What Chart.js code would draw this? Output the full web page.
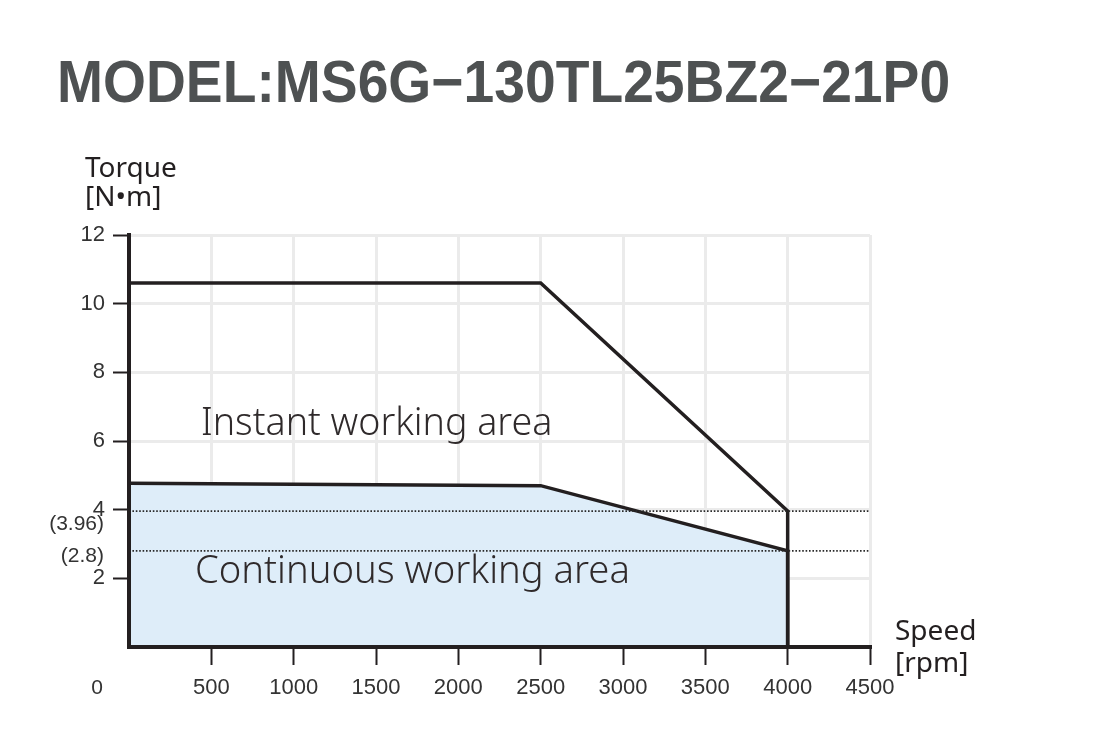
<!DOCTYPE html>
<html>
<head>
<meta charset="utf-8">
<script src="https://cdn.jsdelivr.net/npm/chart.js@4/dist/chart.umd.min.js"></script>
<style>
  html, body { margin: 0; padding: 0; background: #fff; }
  #wrap { width: 1111px; height: 753px; position: relative; }
</style>
</head>
<body>
<div id="wrap"><canvas id="torqueChart"></canvas></div>
<script>
// torque / speed curve data
const speedTicks = [0, 500, 1000, 1500, 2000, 2500, 3000, 3500, 4000, 4500];
const torqueTicks = [0, 2, 4, 6, 8, 10, 12];

const instantSpeed = [0, 2500, 4000, 4000];
const instantTorque = [10.6, 10.6, 3.96, 0];

const contSpeed = [0, 2500, 4000, 4000];
const contTorque = [4.77, 4.7, 2.8, 0];

const markLevels = [3.96, 2.8];
const markLabels = ['(3.96)', '(2.8)'];

const dark = '#231f20';
const toPoints = (xs, ys) => xs.map((x, i) => ({x: x, y: ys[i]}));

// extra texts drawn on the canvas
const textPlugin = {
    id: 'texts',
    afterDraw(chart) {
        const c = chart.ctx;
        const x = chart.scales.x, y = chart.scales.y;
        c.save();
        // title (squeezed a little, the original face is narrower)
        c.save();
        c.fillStyle = '#4e5152';
        c.font = 'bold 59px "Liberation Sans", Arial, sans-serif';
        c.textBaseline = 'alphabetic';
        c.textAlign = 'left';
        c.translate(57, 102);
        c.scale(0.936, 1);
        c.fillText('MODEL:MS6G\u2212130TL25BZ2\u221221P0', 0, 0);
        c.restore();

        // axis titles
        c.fillStyle = dark;
        c.textAlign = 'left';
        c.font = '28px "Noto Sans", sans-serif';
        c.fillText('Torque', 85, 177);
        c.fillText('[N\u2022m]', 85, 206);
        c.fillText('Speed', 895, 640);
        c.fillText('[rpm]', 895, 672);

        // area labels
        c.fillStyle = '#2f2a2b';
        c.font = '300 37.6px "Noto Sans", sans-serif';
        c.fillText('Instant working area', 201, 435);
        c.font = '300 38.2px "Noto Sans", sans-serif';
        c.fillText('Continuous working area', 195, 583);

        // origin + dotted level labels
        c.fillStyle = '#333';
        c.font = '21px "Liberation Sans", Arial, sans-serif';
        c.textAlign = 'center';
        c.textBaseline = 'middle';
        c.fillText('0', x.getPixelForValue(0) - 32, 688);
        c.textAlign = 'right';
        c.fillText(markLabels[0], 104, y.getPixelForValue(markLevels[0]) + 13);
        c.fillText(markLabels[1], 104, y.getPixelForValue(markLevels[1]) + 5);
        c.restore();
    }
};

const ctx = document.getElementById('torqueChart').getContext('2d');

const myChart = new Chart(ctx, {
    type: 'line',
    data: {
        datasets: [
            {
                label: 'Continuous',
                data: toPoints(contSpeed, contTorque),
                borderColor: dark,
                borderWidth: 3.5,
                backgroundColor: '#deedf9',
                fill: 'origin',
                pointRadius: 0,
                tension: 0,
                order: 3
            },
            {
                label: 'Instant',
                data: toPoints(instantSpeed, instantTorque),
                borderColor: dark,
                borderWidth: 3.5,
                fill: false,
                pointRadius: 0,
                tension: 0,
                order: 2
            },
            {
                label: '3.96',
                data: toPoints([0, 4500], [markLevels[0], markLevels[0]]),
                borderColor: '#2a2a2a',
                borderWidth: 1.8,
                borderDash: [1.6, 1.8],
                fill: false,
                pointRadius: 0,
                clip: false,
                order: 1
            },
            {
                label: '2.8',
                data: toPoints([0, 4500], [markLevels[1], markLevels[1]]),
                borderColor: '#2a2a2a',
                borderWidth: 1.8,
                borderDash: [1.6, 1.8],
                fill: false,
                pointRadius: 0,
                clip: false,
                order: 1
            }
        ]
    },
    options: {
        responsive: true,
        maintainAspectRatio: false,
        animation: false,
        layout: { padding: { top: 235, right: 241, left: 0, bottom: 0 } },
        plugins: {
            legend: { display: false },
            tooltip: { enabled: false }
        },
        scales: {
            x: {
                type: 'linear',
                min: speedTicks[0],
                max: speedTicks[speedTicks.length - 1],
                afterBuildTicks: (s) => { s.ticks = speedTicks.map(v => ({value: v})); },
                afterFit: (s) => { s.height = 106; },
                border: { color: dark, width: 4, z: 1 },
                grid: {
                    color: '#ebebeb',
                    lineWidth: 3,
                    tickLength: 18,
                    tickWidth: 2,
                    tickColor: (c) => c.tick && c.tick.value === 0 ? 'rgba(0,0,0,0)' : dark
                },
                ticks: {
                    padding: 10,
                    color: '#333',
                    maxRotation: 0,
                    font: { family: '"Liberation Sans", Arial, sans-serif', size: 22 },
                    callback: (v) => v === 0 ? '' : String(v)
                }
            },
            y: {
                min: torqueTicks[0],
                max: torqueTicks[torqueTicks.length - 1],
                afterBuildTicks: (s) => { s.ticks = torqueTicks.map(v => ({value: v})); },
                afterFit: (s) => { s.width = 129; },
                border: { color: dark, width: 4, z: 1 },
                grid: {
                    color: '#ebebeb',
                    lineWidth: 3,
                    tickLength: 16,
                    tickWidth: 2,
                    tickColor: (c) => c.tick && c.tick.value === 0 ? 'rgba(0,0,0,0)' : dark
                },
                ticks: {
                    padding: 8,
                    color: '#333',
                    font: { family: '"Liberation Sans", Arial, sans-serif', size: 22 },
                    callback: (v) => v === 0 ? '' : String(v)
                }
            }
        }
    },
    plugins: [textPlugin]
});
</script>
</body>
</html>
